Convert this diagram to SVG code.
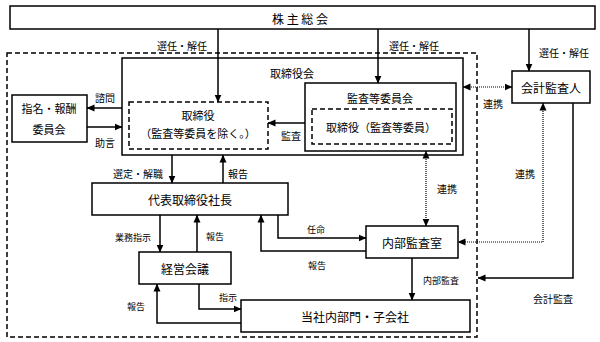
<svg xmlns="http://www.w3.org/2000/svg" width="600" height="342" viewBox="0 0 600 342">
<defs>
<marker id="ah" markerWidth="8" markerHeight="8" refX="7.5" refY="4" orient="auto-start-reverse" markerUnits="userSpaceOnUse">
<path d="M0,0.5 L8,4 L0,7.5 z" fill="#000"/>
</marker>
</defs>
<style>
.box{fill:#fff;stroke:#000;stroke-width:1.5}
.dbox{fill:none;stroke:#000;stroke-width:1.5;stroke-dasharray:5,3}
.ln{fill:none;stroke:#000;stroke-width:1.5}
.dot{fill:none;stroke:#000;stroke-width:1.2;stroke-dasharray:1,1}
text{font-family:"Noto Sans CJK JP","Noto Sans CJK SC",sans-serif;fill:#000;text-anchor:middle;dominant-baseline:central}
.t{font-size:11px}
.b{font-size:12px}
.s{font-size:10px}
.l{font-size:9px}
</style>
<rect width="600" height="342" fill="#fff"/>
<g id="outer"><rect class="dbox" x="7" y="53" width="470" height="284"/></g>
<g id="shareholders"><rect class="box" x="10" y="6" width="585" height="23"/><text class="b" x="300" y="18">株 主 総 会</text></g>
<g id="board"><rect class="box" x="122" y="58" width="341" height="97"/><text class="t" x="292" y="73">取締役会</text></g>
<g id="directors"><rect class="dbox" x="129" y="102" width="139" height="47"/><text class="t" x="198" y="115">取締役</text><text class="t" x="198" y="133">（監査等委員を除く。）</text></g>
<g id="audit-committee"><rect class="box" x="305" y="83" width="151" height="68"/><text class="t" x="380" y="98">監査等委員会</text></g>
<g id="audit-directors"><rect class="dbox" x="312" y="109" width="140" height="35"/><text class="t" x="381" y="127">取締役（監査等委員）</text></g>
<g id="nomination"><rect class="box" x="12" y="95" width="75" height="47"/><text class="t" x="49" y="108">指名・報酬</text><text class="t" x="49" y="129">委員会</text></g>
<g id="accountant"><rect class="box" x="512" y="71" width="78" height="32"/><text class="b" x="551" y="87">会計監査人</text></g>
<g id="president"><rect class="box" x="92" y="183" width="196" height="32"/><text class="b" x="190" y="199">代表取締役社長</text></g>
<g id="management"><rect class="box" x="139" y="252" width="92" height="32"/><text class="b" x="185" y="268">経営会議</text></g>
<g id="internal-audit"><rect class="box" x="366" y="226" width="92" height="32"/><text class="b" x="412" y="242">内部監査室</text></g>
<g id="departments"><rect class="box" x="241" y="300" width="229" height="32"/><text class="b" x="355" y="316">当社内部門・子会社</text></g>
<g id="connectors">
<path class="ln" d="M218,29 V102" marker-end="url(#ah)"/>
<path class="ln" d="M378,29 V83" marker-end="url(#ah)"/>
<path class="ln" d="M529,29 V71" marker-end="url(#ah)"/>
<path class="dot" d="M463,87 H512" marker-start="url(#ah)" marker-end="url(#ah)"/>
<path class="ln" d="M305,123 H268" marker-end="url(#ah)"/>
<path class="ln" d="M122,108 H87" marker-end="url(#ah)"/>
<path class="ln" d="M87,127 H122" marker-end="url(#ah)"/>
<path class="ln" d="M172,155 V183" marker-end="url(#ah)"/>
<path class="ln" d="M223,183 V155" marker-end="url(#ah)"/>
<path class="dot" d="M426,151 V226" marker-start="url(#ah)" marker-end="url(#ah)"/>
<path class="dot" d="M543,103 V242 H458" marker-start="url(#ah)" marker-end="url(#ah)"/>
<path class="ln" d="M573,103 V278 H478" marker-end="url(#ah)"/>
<path class="ln" d="M160,215 V252" marker-end="url(#ah)"/>
<path class="ln" d="M197,252 V215" marker-end="url(#ah)"/>
<path class="ln" d="M278,215 V238 H366" marker-end="url(#ah)"/>
<path class="ln" d="M366,251 H261 V215" marker-end="url(#ah)"/>
<path class="ln" d="M412,258 V300" marker-end="url(#ah)"/>
<path class="ln" d="M199,284 V309 H241" marker-end="url(#ah)"/>
<path class="ln" d="M241,323 H157 V284" marker-end="url(#ah)"/>
</g>
<g id="labels">
<text class="s" x="182" y="45">選任・解任</text>
<text class="s" x="414" y="45">選任・解任</text>
<text class="s" x="564" y="52">選任・解任</text>
<text class="s" x="493" y="103">連携</text>
<text class="s" x="105" y="97">諮問</text>
<text class="s" x="105" y="142">助言</text>
<text class="s" x="291" y="135">監査</text>
<text class="s" x="138" y="173">選定・解職</text>
<text class="s" x="238" y="173">報告</text>
<text class="s" x="447" y="188">連携</text>
<text class="s" x="525" y="173">連携</text>
<text class="l" x="133" y="237">業務指示</text>
<text class="l" x="215" y="236">報告</text>
<text class="l" x="316" y="229">任命</text>
<text class="l" x="317" y="265">報告</text>
<text class="l" x="441" y="280">内部監査</text>
<text class="s" x="553" y="298">会計監査</text>
<text class="l" x="228" y="297">指示</text>
<text class="l" x="136" y="306">報告</text>
</g>
</svg>
